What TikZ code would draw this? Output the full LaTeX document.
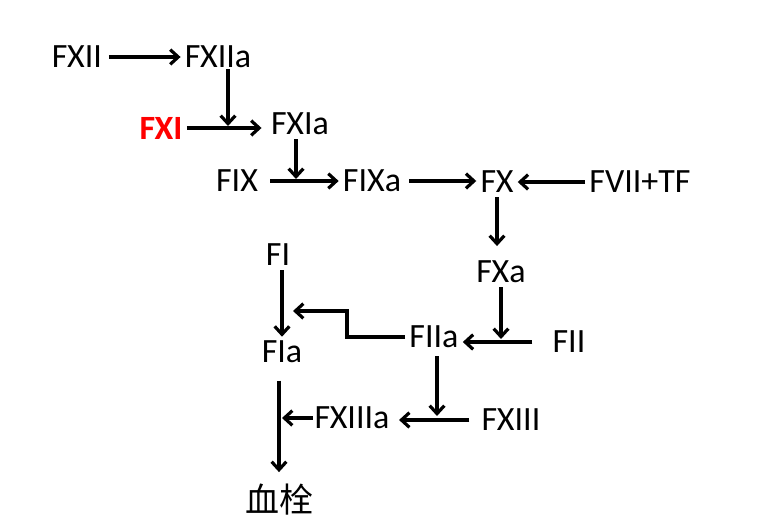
\documentclass[tikz,border=0pt]{standalone}
\usepackage{fontspec}
\setmainfont{Carlito}
\newfontfamily\cjkfont{Noto Sans CJK SC}
\usetikzlibrary{arrows.meta,positioning}

\begin{document}
\begin{tikzpicture}[x=0.75pt,y=-0.75pt,>={Straight Barb[length=6pt,width=11pt]}]
  \tikzstyle{every node} = [inner sep=3pt,font=\fontsize{25.5}{30}\selectfont]
  \tikzstyle{flow} = [->,line width=2.4pt]
  \useasboundingbox (0,0) rectangle (784,531);

  % factors
  \node (FXII) at (77,57) {FXII};
  \node (FXIIa) at (218,57) {FXIIa};
  \node [text=red,font=\fontsize{25.5}{30}\selectfont\bfseries] (FXI) at (161,128) {FXI};
  \node (FXIa) at (300,124) {FXIa};
  \node (FIX) at (237,181) {FIX};
  \node (FIXa) at (372,181) {FIXa};
  \node (FX) at (497,182) {FX};
  \node (FVIITF) at (640,182) {FVII+TF};
  \node (FXa) at (501,272) {FXa};
  \node (FII) at (569,342) {FII};
  \node (FIIa) at (434,337) {FIIa};
  \node (FI) at (278,255) {FI};
  \node (FIa) at (282,352) {FIa};
  \node (FXIIIa) at (352,418) {FXIIIa};
  \node (FXIII) at (511,420) {FXIII};
  \node [font=\fontsize{25.5}{30}\selectfont\cjkfont] (clot) at (279,500) {血栓};

  % points where an arrow meets another arrow
  \coordinate (j1) at (228,126);
  \coordinate (j2) at (296,179);
  \coordinate (j3) at (282,420);
  \coordinate (j4) at (501,339);
  \coordinate (j5) at (437,416);
  \coordinate (bend) at (347,311);
  \coordinate (j6) at (293,311);

  \draw [flow,shorten <=2pt] (FXII) -- (FXIIa);
  \draw [flow] (FXIIa.south -| j1) ++(0,-3) -- (j1);
  \draw [flow,shorten >=4pt] (FXI.east) -- (FXI.east -| FXIa.west);
  \draw [flow] (FXIa.south -| j2) -- (j2);
  \draw [flow,shorten <=6pt] (FIX) -- (FIXa);
  \draw [flow,shorten <=3pt] (FIXa.east) -- (FIXa.east -| FX.west);
  \draw [flow] (FVIITF.west) -- (FVIITF.west -| FX.east);
  \draw [flow,shorten >=8pt] (FX.south) -- (FX.south |- FXa.north);
  \draw [flow] (FXa.south) -- (j4);
  \draw [flow,shorten <=12pt] (FII.west) -- (FII.west -| FIIa.east);
  \draw [flow] (FIIa.west) -| (bend) -- (j6);
  \draw [flow] (FIIa.south -| j5) ++(0,4) -- (j5);
  \draw [flow,shorten <=6pt,shorten >=4pt] (FXIII.west) -- (FXIII.west -| FXIIIa.east);
  \draw [flow,shorten <=-2pt] (FXIIIa.west) -- (FXIIIa.west -| j3);
  \draw [flow] (FI.south -| FIa) -- (FIa.north);
  \draw [flow,shorten <=10pt,shorten >=6pt] (FIa.south -| clot) -- (clot.north);
\end{tikzpicture}
\end{document}
